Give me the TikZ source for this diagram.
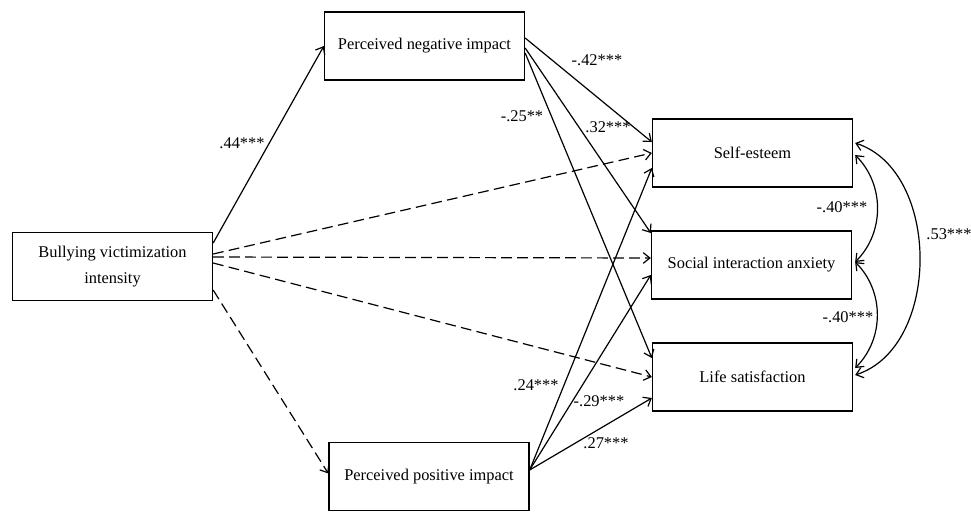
\documentclass[tikz,border=0pt]{standalone}
\usepackage{fontspec}
\setmainfont{Liberation Serif}
\usetikzlibrary{arrows.meta, calc}
\tikzset{var/.style={draw, line width=1pt, minimum width=150pt, minimum height=51pt, inner sep=0pt, align=center, font=\fontsize{12.3}{19.5}\selectfont}}
\tikzset{arr/.style={draw, line width=0.9pt, ->, >={Straight Barb[length=5pt, width=8pt]}}}
\tikzset{coef/.style={inner sep=0pt, font=\fontsize{12.3}{15}\selectfont}}
\tikzset{ns/.style={dash pattern=on 8pt off 4pt}}

\begin{document}
\begin{tikzpicture}[x=0.75pt, y=-0.75pt]
	\useasboundingbox (0,0) rectangle (971,512);

	\node[var] (bvi) at (112.5,266.5){Bullying victimization\\intensity};
	\node[var] (pneg) at (424.5,46){Perceived negative impact};
	\node[var] (ppos) at (429,476.5){Perceived positive impact};

	\node[var] (se) at (752.5,153){Self-esteem};
	\node[var] (sia) at (751.5,265){Social interaction anxiety};
	\node[var] (ls) at (752.5,377){Life satisfaction};

	% a path
	\draw[arr] ($(bvi.east)+(0,-23.5)$) -- (pneg.west);
	\node[coef] (c44) at (242,143){.44***};

	% direct paths
	\draw[arr, ns] ($(bvi.east)+(0,-12.5)$) -- (se.west);
	\draw[arr, ns] ($(bvi.east)+(0,-9.5)$) -- ($(sia.west)+(0,-7)$);
	\draw[arr, ns] ($(bvi.east)+(0,-3.5)$) -- (ls.west);
	\draw[arr, ns] ($(bvi.east)+(0,23.5)$) -- ($(ppos.west)+(0,-3)$);

	% b paths, negative
	\draw[arr] ($(pneg.east)+(0,-8)$) -- ($(se.west)+(0,-11)$);
	\draw[arr] ($(pneg.east)+(0,2)$) -- ($(sia.west)+(0,-32)$);
	\draw[arr] ($(pneg.east)+(0,7)$) -- ($(ls.west)+(0,-19)$);
	\node[coef] (c42) at (597,60){-.42***};
	\node[coef] (c32) at (608,127){.32***};
	\node[coef] (c25) at (522,116){-.25**};

	% b paths, positive
	\draw[arr] ($(ppos.east)+(0,-6.5)$) -- ($(se.west)+(0,15)$);
	\draw[arr] ($(ppos.east)+(0,-6.5)$) -- ($(sia.west)+(0,10)$);
	\draw[arr] ($(ppos.east)+(0,-6.5)$) -- ($(ls.west)+(0,21)$);
	\node[coef] (c24) at (536,385){.24***};
	\node[coef] (c29) at (599,401){-.29***};
	\node[coef] (c27) at (606,443){.27***};

	% covariances
	\draw[arr, <->] ($(se.east)+(2,2)$) to[bend left=45] ($(sia.east)+(3,-3)$);
	\draw[arr, <->] ($(sia.east)+(3,-3)$) to[bend left=45] ($(ls.east)+(2,-9)$);
	\draw[arr, <->] ($(se.east)+(2,-10)$) to[bend left=72] ($(ls.east)+(2,-2)$);
	\node[coef] (r1) at (842,207){-.40***};
	\node[coef] (r2) at (848,317){-.40***};
	\node[coef] (r3) at (949,234){.53***};
\end{tikzpicture}
\end{document}
